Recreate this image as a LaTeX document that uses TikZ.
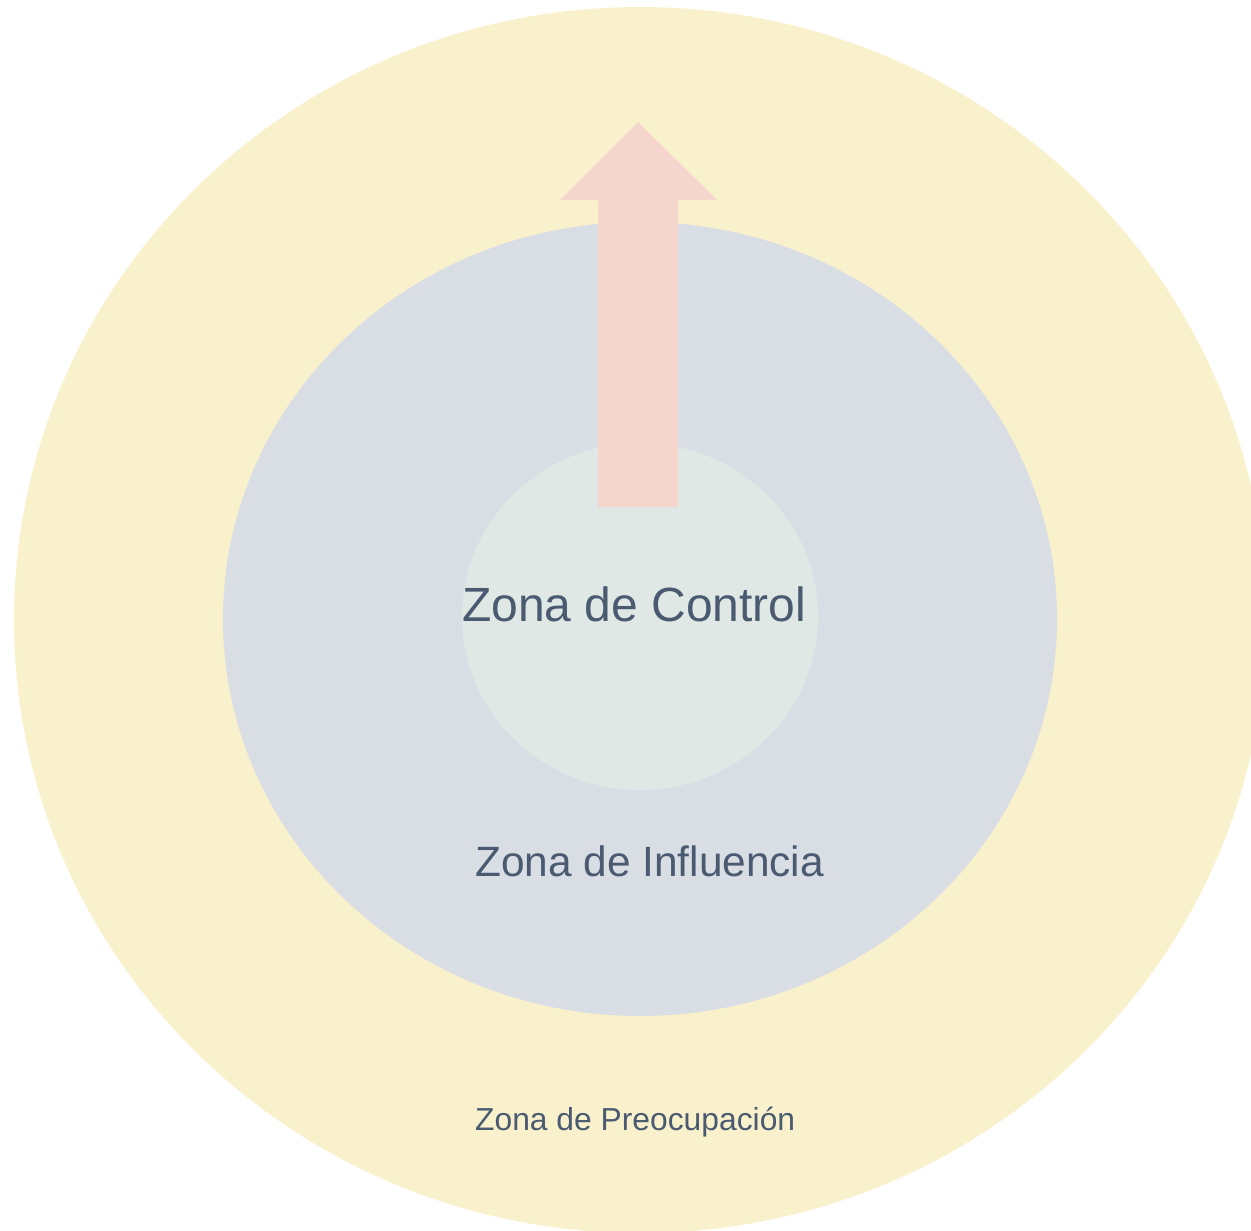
\documentclass[tikz,border=0pt]{standalone}
\usepackage{fontspec}
\setmainfont{Liberation Sans}
\definecolor{concern}{HTML}{F9F1CB}
\definecolor{influence}{HTML}{D9DEE5}
\definecolor{control}{HTML}{DFE8E4}
\definecolor{arrowfill}{HTML}{F5D6CD}
\definecolor{textcol}{HTML}{4A5A70}
\tikzset{
  zonelabel/.style={anchor=base west, inner sep=0pt, text=textcol},
}
\begin{document}
\begin{tikzpicture}[x=1pt,y=-1pt]
\useasboundingbox (0,0) rectangle (1251,1231);
\clip (0,0) rectangle (1251,1231);
\fill[concern] (640,620) ellipse [x radius=626, y radius=613];
\fill[influence] (640,619) ellipse [x radius=417, y radius=397];
\fill[control] (640,616.5) ellipse [x radius=178, y radius=173.5];
\fill[arrowfill] (598,507) -- (598,200) -- (560,200) -- (638,122) -- (717,200) -- (678,200) -- (678,507) -- cycle;
\node[zonelabel, font=\fontsize{48}{56}\selectfont] (ctrl) at (462,621) {Zona de Control};
\node[zonelabel, font=\fontsize{42.4}{50}\selectfont] (infl) at (475,876) {Zona de Influencia};
\node[zonelabel, font=\fontsize{31.8}{38}\selectfont] (preo) at (475,1130) {Zona de Preocupación};
\end{tikzpicture}
\end{document}
